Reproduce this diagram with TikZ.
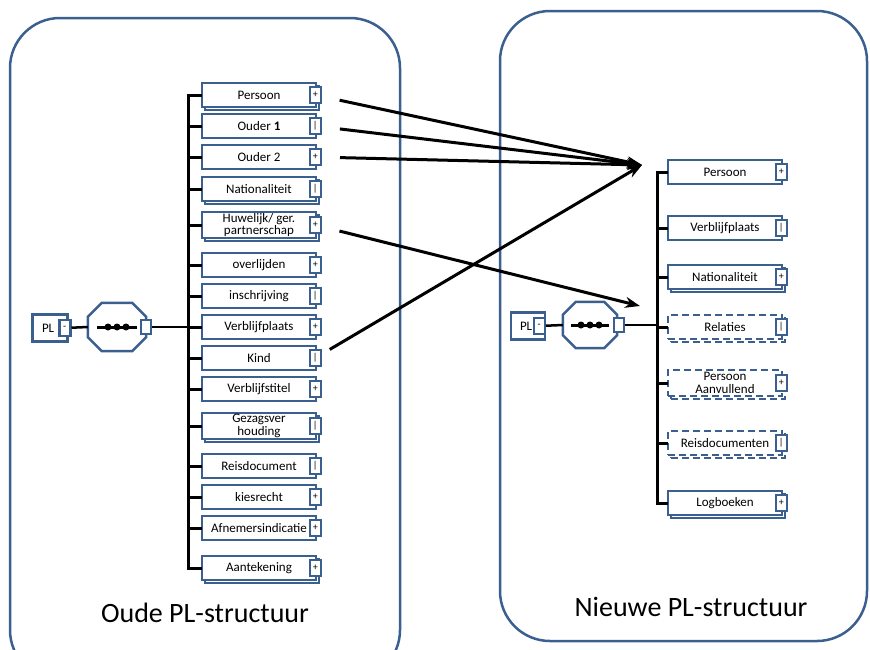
\documentclass[tikz,border=0pt]{standalone}
\usepackage{fontspec}
\setmainfont{Carlito}
\usetikzlibrary{arrows.meta,shadows}
\definecolor{plblue}{RGB}{59,95,143}

\begin{document}
\begin{tikzpicture}[x=1pt,y=-1pt,
    element/.style={draw=plblue,line width=2.5pt,fill=white,minimum width=114pt,minimum height=24pt,
                    inner sep=1pt,align=center,font=\fontsize{13}{12.5}\selectfont},
    stacked/.style={copy shadow={shadow xshift=3pt,shadow yshift=-3pt}},
    optional/.style={dash pattern=on 7pt off 4pt},
    toggle/.style={draw=plblue,line width=2.5pt,fill=white,solid,minimum width=11pt,minimum height=16pt,
                   inner sep=0pt,font=\fontsize{10}{10}\selectfont},
    sequence/.style={minimum width=58pt,minimum height=48pt,inner sep=0pt},
    octagon/.style={draw=plblue,line width=2.5pt,fill=white},
    container/.style={draw=plblue,line width=2.5pt,rounded corners=50pt},
    bar/.style={line width=3pt,line cap=rect},
    mapping/.style={-{Stealth[length=15pt,width=11pt]},line width=3pt,shorten <=18pt},
    title/.style={font=\fontsize{28}{32}\selectfont}]

  \useasboundingbox (0,0) rectangle (870,649);

  % containers
  \draw[container] (10,18) rectangle (400,680);
  \draw[container] (500,11) rectangle (867,641);
  \node[title] (oldtitle) at (205,613) {Oude PL-structuur};
  \node[title] (newtitle) at (691,607) {Nieuwe PL-structuur};

  % old structure
  \node[element,minimum width=35pt,minimum height=27pt,text width=16pt,align=left] (plold) at (50,328) {PL};
  \node[toggle] (plold-t) at ([xshift=-4pt]plold.east) {-};
  \node[sequence] (seqold) at (117,327) {};
  \draw[octagon] ([xshift=14pt]seqold.north west) -- ([xshift=-14pt]seqold.north east) -- ([yshift=-14pt]seqold.north east)
     -- ([yshift=14pt]seqold.south east) -- ([xshift=-14pt]seqold.south east) -- ([xshift=14pt]seqold.south west)
     -- ([yshift=14pt]seqold.south west) -- ([yshift=-14pt]seqold.north west) -- cycle;
  \node[toggle,minimum width=10pt,minimum height=14pt] (seqold-t) at (seqold.east) {};
  \coordinate (barold) at (188,327);

  \node[element,stacked] (persoon) at (259,95) {Persoon};
    \node[toggle] (persoon-t) at ([xshift=-2pt]persoon.east) {+};
  \node[element] (ouder1) at (259,126) {Ouder \textbf{1}};
    \node[toggle] (ouder1-t) at ([xshift=-2pt]ouder1.east) {|};
  \node[element] (ouder2) at (259,157) {Ouder 2};
    \node[toggle] (ouder2-t) at ([xshift=-2pt]ouder2.east) {+};
  \node[element,stacked] (natold) at (259,189) {Nationaliteit};
    \node[toggle] (natold-t) at ([xshift=-2pt]natold.east) {|};
  \node[element,stacked,minimum height=26pt] (huwelijk) at (259,225) {Huwelijk/ ger.\\partnerschap};
    \node[toggle] (huwelijk-t) at ([xshift=-2pt]huwelijk.east) {+};
  \node[element] (overlijden) at (259,265) {overlijden};
    \node[toggle] (overlijden-t) at ([xshift=-2pt]overlijden.east) {+};
  \node[element] (inschrijving) at (259,296) {inschrijving};
    \node[toggle] (inschrijving-t) at ([xshift=-2pt]inschrijving.east) {|};
  \node[element] (verblold) at (259,327) {Verblijfplaats};
    \node[toggle] (verblold-t) at ([xshift=-2pt]verblold.east) {+};
  \node[element] (kind) at (259,358) {Kind};
    \node[toggle] (kind-t) at ([xshift=-2pt]kind.east) {|};
  \node[element] (verblijfstitel) at (259,389) {Verblijfstitel};
    \node[toggle] (verblijfstitel-t) at ([xshift=-2pt]verblijfstitel.east) {+};
  \node[element,stacked,minimum height=26pt] (gezag) at (259,426) {Gezagsver\\houding};
    \node[toggle] (gezag-t) at ([xshift=-2pt]gezag.east) {|};
  \node[element] (reisdocument) at (259,466) {Reisdocument};
    \node[toggle] (reisdocument-t) at ([xshift=-2pt]reisdocument.east) {|};
  \node[element] (kiesrecht) at (259,497) {kiesrecht};
    \node[toggle] (kiesrecht-t) at ([xshift=-2pt]kiesrecht.east) {+};
  \node[element] (afnemers) at (259,528) {Afnemersindicatie};
    \node[toggle] (afnemers-t) at ([xshift=-2pt]afnemers.east) {+};
  \node[element,stacked] (aantekening) at (259,568) {Aantekening};
    \node[toggle] (aantekening-t) at ([xshift=-2pt]aantekening.east) {+};

  % new structure
  \node[element,minimum width=34pt,minimum height=27pt,text width=16pt,align=left] (plnew) at (528,326) {PL};
  \node[toggle] (plnew-t) at ([xshift=-7pt]plnew.east) {-};
  \node[sequence,minimum width=54pt,minimum height=46pt] (seqnew) at (590,325) {};
  \draw[octagon] ([xshift=13pt]seqnew.north west) -- ([xshift=-13pt]seqnew.north east) -- ([yshift=-13pt]seqnew.north east)
     -- ([yshift=13pt]seqnew.south east) -- ([xshift=-13pt]seqnew.south east) -- ([xshift=13pt]seqnew.south west)
     -- ([yshift=13pt]seqnew.south west) -- ([yshift=-13pt]seqnew.north west) -- cycle;
  \node[toggle,minimum width=10pt,minimum height=14pt] (seqnew-t) at ([xshift=2pt]seqnew.east) {};
  \coordinate (barnew) at (657,327);

  \node[element] (persnew) at (725,172) {Persoon};
    \node[toggle] (persnew-t) at ([xshift=-2pt]persnew.east) {+};
  \node[element] (verblnew) at (725,228) {Verblijfplaats};
    \node[toggle] (verblnew-t) at ([xshift=-2pt]verblnew.east) {|};
  \node[element,stacked] (natnew) at (725,277) {Nationaliteit};
    \node[toggle] (natnew-t) at ([xshift=-2pt]natnew.east) {+};
  \node[element,stacked,optional] (relaties) at (725,327) {Relaties};
    \node[toggle] (relaties-t) at ([xshift=-2pt]relaties.east) {|};
  \node[element,stacked,optional,minimum height=26pt] (aanvullend) at (725,383) {Persoon\\Aanvullend};
    \node[toggle] (aanvullend-t) at ([xshift=-2pt]aanvullend.east) {+};
  \node[element,stacked,optional] (reisdocs) at (725,443) {Reisdocumenten};
    \node[toggle] (reisdocs-t) at ([xshift=-2pt]reisdocs.east) {|};
  \node[element,stacked] (logboeken) at (725,503) {Logboeken};
    \node[toggle] (logboeken-t) at ([xshift=-2pt]logboeken.east) {+};

  % sequence marks
  \draw[line width=3pt] ([xshift=-20pt]seqold.center) -- ([xshift=20pt]seqold.center);
  \fill ([xshift=-9pt]seqold.center) circle (3.5pt) (seqold.center) circle (3.5pt) ([xshift=9pt]seqold.center) circle (3.5pt);
  \draw[line width=3pt] ([xshift=-19pt]seqnew.center) -- ([xshift=19pt]seqnew.center);
  \fill ([xshift=-9pt]seqnew.center) circle (3.5pt) (seqnew.center) circle (3.5pt) ([xshift=9pt]seqnew.center) circle (3.5pt);

  % tree lines
  \draw[line width=2.5pt] (plold-t) -- (seqold.west);
  \draw[line width=2.5pt] (seqold-t) -- (barold);
  \draw[bar] (persoon.west) -- (persoon.west -| barold) -- (aantekening.west -| barold) -- (aantekening.west);
  \draw[bar] (ouder1.west) -- (ouder1.west -| barold);
  \draw[bar] (ouder2.west) -- (ouder2.west -| barold);
  \draw[bar] (natold.west) -- (natold.west -| barold);
  \draw[bar] (huwelijk.west) -- (huwelijk.west -| barold);
  \draw[bar] (overlijden.west) -- (overlijden.west -| barold);
  \draw[bar] (inschrijving.west) -- (inschrijving.west -| barold);
  \draw[bar] (verblold.west) -- (verblold.west -| barold);
  \draw[bar] (kind.west) -- (kind.west -| barold);
  \draw[bar] (verblijfstitel.west) -- (verblijfstitel.west -| barold);
  \draw[bar] (gezag.west) -- (gezag.west -| barold);
  \draw[bar] (reisdocument.west) -- (reisdocument.west -| barold);
  \draw[bar] (kiesrecht.west) -- (kiesrecht.west -| barold);
  \draw[bar] (afnemers.west) -- (afnemers.west -| barold);

  \draw[line width=2.5pt] (plnew-t) -- (seqnew.west);
  \draw[line width=1.5pt] (seqnew-t) -- (seqnew-t -| barnew);
  \draw[bar] (persnew.west) -- (persnew.west -| barnew) -- (logboeken.west -| barnew) -- (logboeken.west);
  \draw[bar] (verblnew.west) -- (verblnew.west -| barnew);
  \draw[bar] (natnew.west) -- (natnew.west -| barnew);
  \draw[bar] (relaties.west) -- (relaties.west -| barnew);
  \draw[bar] (aanvullend.west) -- (aanvullend.west -| barnew);
  \draw[bar] (reisdocs.west) -- (reisdocs.west -| barnew);

  % mappings old -> new
  \coordinate (tonew) at (642,165);
  \coordinate (torel) at (640,306);
  \draw[mapping] (persoon-t) -- (tonew);
  \draw[mapping] (ouder1-t) -- (tonew);
  \draw[mapping] (ouder2-t) -- (tonew);
  \draw[mapping] (huwelijk-t) -- (torel);
  \draw[mapping,shorten <=9pt] (kind-t) -- (tonew);
\end{tikzpicture}
\end{document}
